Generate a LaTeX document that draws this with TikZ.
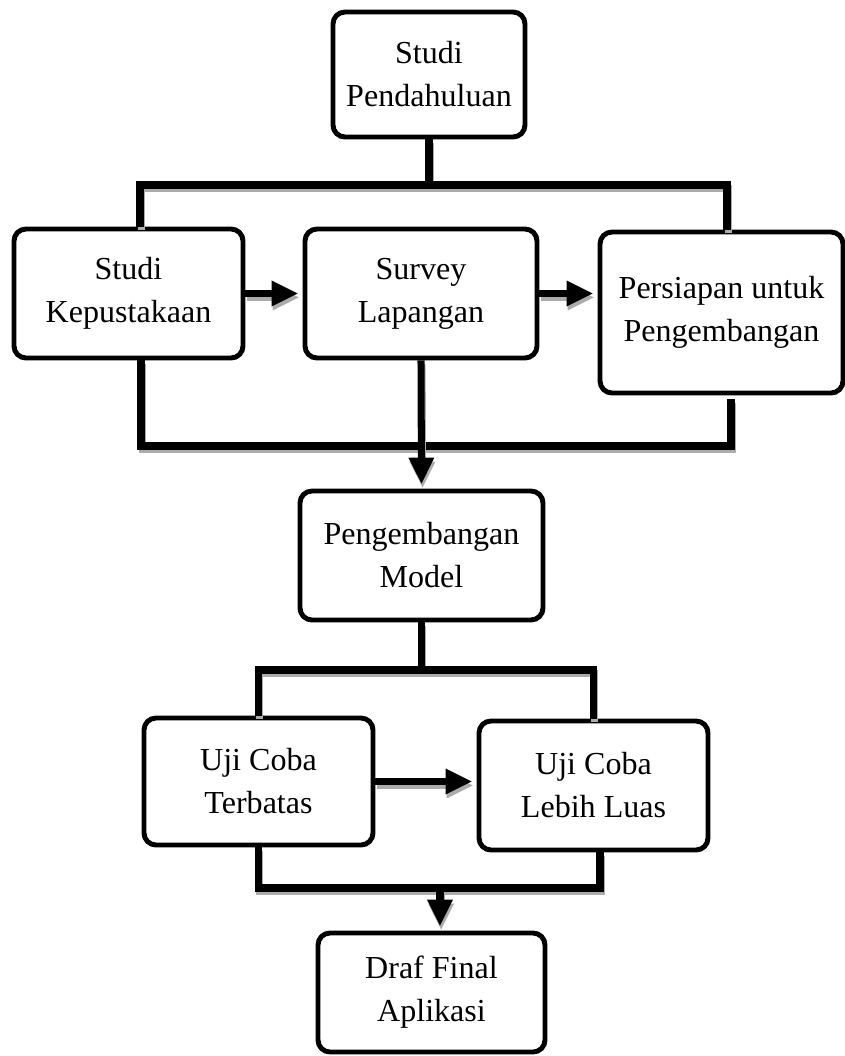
\documentclass[tikz,border=0pt]{standalone}
\usepackage{fontspec}
\setmainfont{Liberation Serif}
\usetikzlibrary{arrows.meta}

\begin{document}
\begin{tikzpicture}[
	cell/.style={
		rectangle,
		rounded corners=3mm,
		draw,
		line width=3.5pt,
		fill=white,
		align=center,
		inner sep=0pt,
		font=\fontsize{22.8}{30.6}\selectfont,
	},
	Link/.style={% thick lines with a grey shadow
		line width=5pt,
		preaction={draw=gray!65, line width=5pt, transform canvas={shift={(0.8pt,-2.8pt)}}},
	},
	ArrowL/.style={
		Link,
		-{Triangle[length=19pt,width=17pt]},
		shorten >=3pt,
	},
]
	\useasboundingbox (0,0) rectangle (21.125,-26.4);

	\node [cell, minimum width=4.8cm, minimum height=3.125cm] (pendahuluan) at (10.725,-1.8625) {Studi\\Pendahuluan};
	\node [cell, minimum width=5.725cm, minimum height=3.225cm] (kepustakaan) at (3.2125,-7.3375) {Studi\\Kepustakaan};
	\node [cell, minimum width=5.8cm, minimum height=3.225cm] (survey) at (10.525,-7.3375) {Survey\\Lapangan};
	\node [cell, minimum width=6.075cm, minimum height=4.025cm] (persiapan) at (18.0375,-7.8125) {Persiapan untuk\\Pengembangan};
	\node [cell, minimum width=6.075cm, minimum height=3.225cm] (model) at (10.5375,-13.8875) {Pengembangan\\Model};
	\node [cell, minimum width=5.725cm, minimum height=3.175cm] (terbatas) at (6.4625,-19.5375) {Uji Coba\\Terbatas};
	\node [cell, minimum width=5.725cm, minimum height=3.225cm] (luas) at (14.8375,-19.6375) {Uji Coba\\Lebih Luas};
	\node [cell, minimum width=5.675cm, minimum height=2.975cm] (draf) at (10.7875,-24.8125) {Draf Final\\Aplikasi};

	\coordinate (toplft) at (3.5,-4.625);
	\coordinate (toprgt) at (18.175,-4.625);
	\coordinate (botlft) at (3.525,-11.15);
	\coordinate (botrgt) at (18.275,-11.15);
	\coordinate (rgtstart) at (18.275,-9.975);
	\coordinate (midbar) at (10.5,-16.75);
	\coordinate (lowrgt) at (15.0,-22.2);
	\coordinate (lowdown) at (11.0,-22.2);

	% upper branch
	\draw [Link] (pendahuluan.south) -- (pendahuluan.south |- toplft);
	\draw [Link] (kepustakaan.north -| toplft) -- (toplft) -- (toprgt) -- (persiapan.north -| toprgt);
	\draw [ArrowL] (kepustakaan.east) -- (survey.west);
	\draw [ArrowL] (survey.east) -- (survey.east -| persiapan.west);
	\draw [Link] (kepustakaan.south -| botlft) -- (botlft) -- (botrgt) -- (rgtstart);
	\draw [ArrowL] (survey.south) -- (model.north);

	% lower branch
	\draw [Link] (model.south) -- (model.south |- midbar);
	\draw [Link] (terbatas.north) -- (terbatas.north |- midbar) -- (luas.north |- midbar) -- (luas.north);
	\draw [ArrowL] (terbatas.east) -- (terbatas.east -| luas.west);
	\draw [Link] (terbatas.south) -- (terbatas.south |- lowrgt) -- (lowrgt) -- (lowrgt |- luas.south);
	\draw [ArrowL] (lowdown) -- (lowdown |- draf.north);
\end{tikzpicture}
\end{document}
